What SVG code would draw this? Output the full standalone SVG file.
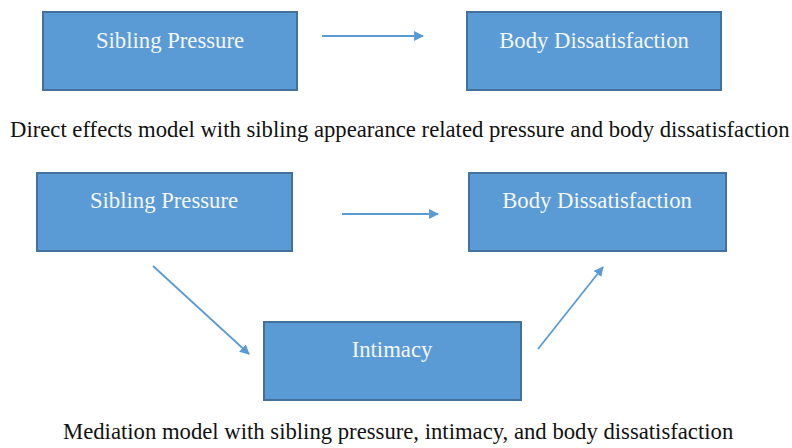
<svg xmlns="http://www.w3.org/2000/svg" width="792" height="448" viewBox="0 0 792 448">
<style>
.box{fill:#5B9BD5;stroke:#41719C;stroke-width:2}
.lbl{font-family:'Liberation Serif',serif;font-size:22.7px;fill:#F4F7FB;text-anchor:middle}
.cap{font-family:'Liberation Serif',serif;font-size:22.7px;fill:#111}
.conn{stroke:#5B9BD5;stroke-width:1.8;fill:none;marker-end:url(#ah)}
</style>
<defs>
<marker id="ah" viewBox="0 0 10 10" refX="9" refY="5" markerWidth="5.5" markerHeight="5.5" orient="auto" markerUnits="strokeWidth">
<path d="M0,0 L10,5 L0,10 z" fill="#5B9BD5"/>
</marker>
</defs>
<rect width="792" height="448" fill="#fff"/>
<g id="n1"><rect class="box" x="43" y="12" width="254" height="78"/><text class="lbl" x="170" y="48">Sibling Pressure</text></g>
<g id="n2"><rect class="box" x="467" y="12" width="254" height="78"/><text class="lbl" x="594" y="48">Body Dissatisfaction</text></g>
<g id="n3"><rect class="box" x="37" y="173" width="255" height="78"/><text class="lbl" x="164" y="208">Sibling Pressure</text></g>
<g id="n4"><rect class="box" x="469" y="173" width="257" height="78"/><text class="lbl" x="597" y="208">Body Dissatisfaction</text></g>
<g id="n5"><rect class="box" x="264" y="322" width="257" height="78"/><text class="lbl" x="392" y="357">Intimacy</text></g>
<g id="connectors">
<line class="conn" x1="322" y1="36" x2="423" y2="36"/>
<line class="conn" x1="342" y1="214" x2="438" y2="214"/>
<line class="conn" x1="153" y1="266" x2="249" y2="354"/>
<line class="conn" x1="538" y1="349" x2="603" y2="267"/>
</g>
<text class="cap" x="10" y="137">Direct effects model with sibling appearance related pressure and body dissatisfaction</text>
<text class="cap" x="63" y="439">Mediation model with sibling pressure, intimacy, and body dissatisfaction</text>
</svg>
